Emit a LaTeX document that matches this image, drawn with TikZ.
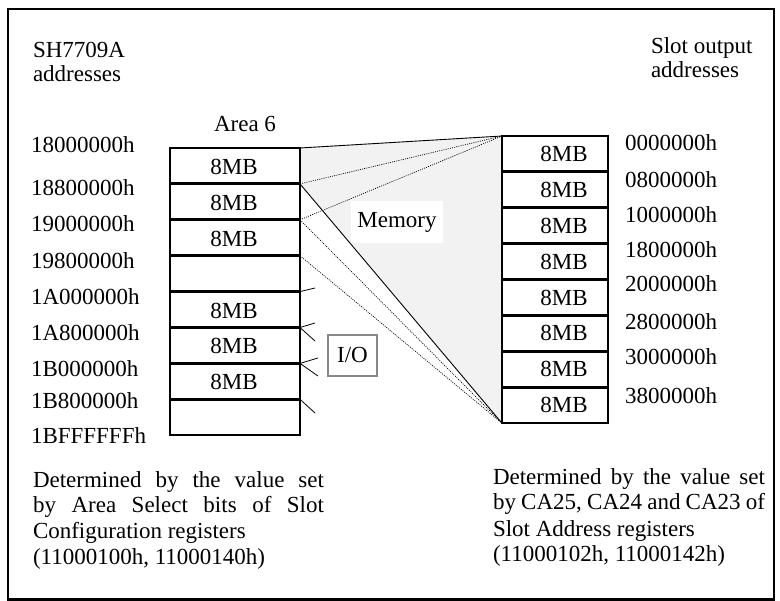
\documentclass[tikz,border=0pt]{standalone}
\usepackage{fontspec}
\setmainfont{Liberation Serif}
\usetikzlibrary{backgrounds}
\definecolor{memfill}{HTML}{F2F2F2}
\definecolor{iogray}{HTML}{888888}
\begin{document}
\begin{tikzpicture}[x=1pt,y=-1pt,
  every node/.style={font=\fontsize{23}{26}\selectfont, inner sep=0pt, outer sep=0pt},
  cellL/.style={draw, line width=2.3pt, fill=white, minimum width=130pt, minimum height=35.9pt},
  cellR/.style={draw, line width=2.3pt, fill=white, minimum width=106pt, minimum height=35.9pt},
  sepline/.style={line width=3.2pt},
  solidline/.style={line width=0.9pt},
  dotline/.style={line width=0.7pt, dash pattern=on 1pt off 1.2pt},
  tickline/.style={line width=0.8pt},
  iobox/.style={draw=iogray, line width=1.5pt, minimum width=49pt, minimum height=41pt},
  membox/.style={fill=white, minimum width=92pt, minimum height=42pt},
  txt/.style={anchor=base west}]
\useasboundingbox (0,0) rectangle (780,601);
% frame
\draw[line width=2.5pt] (8,9) rectangle (774,599.5);

% cells
\foreach \i in {1,...,8}{
  \node[cellL] (L\i) at (235,{148+35.9*(\i-0.5)}) {};
  \node[cellR] (R\i) at (555,{136+35.9*(\i-0.5)}) {};
}
\foreach \i in {1,...,7}{
  \draw[sepline] (L\i.south west) -- (L\i.south east);
  \draw[sepline] (R\i.south west) -- (R\i.south east);
}
\foreach \i in {1,...,8}{
  \node (mR\i) at (564,{136+35.9*(\i-0.5)}) {8MB};
}
\foreach \i in {1,2,3,5,6,7}{
  \node (mL\i) at (234,{149+35.9*(\i-0.5)}) {8MB};
}

% shaded memory mapping
\begin{scope}[on background layer]
  \fill[memfill] (L1.north east) -- (R1.north west) -- (R8.south west) -- (L1.south east) -- cycle;
\end{scope}
\node[membox] (mem) at (397,222) {Memory};
\draw[solidline] (L1.north east) -- (R1.north west);
\draw[solidline] (L1.south east) -- (R8.south west);
\draw[dotline] (L1.south east) -- (R1.north west);
\draw[dotline] (L2.south east) -- (R1.north west);
\draw[dotline] (L2.south east) -- (R8.south west);
\draw[dotline] (L3.south east) -- (R8.south west);

% I/O
\node[iobox] (io) at (352.5,355.5) {I/O};
\coordinate (k1) at (315,288);
\coordinate (k2) at (315,323);
\coordinate (k3) at (315,341);
\coordinate (k4) at (318,358);
\coordinate (k5) at (318,376);
\coordinate (k6) at (315,413);
\draw[tickline] (L5.north east) -- (k1);
\draw[tickline] (L6.north east) -- (k2);
\draw[tickline] (L6.north east) -- (k3);
\draw[tickline] (L7.north east) -- (k4);
\draw[tickline] (L7.north east) -- (k5);
\draw[tickline] (L8.north east) -- (k6);

% headings
\node[txt] (h1) at (33,58) {SH7709A};
\node[txt] (h2) at (33,82) {addresses};
\node[txt] (h3) at (651,54) {Slot output};
\node[txt] (h4) at (651,78) {addresses};
\node[anchor=base] (area) at (245,132) {Area 6};

% left addresses
\foreach \y/\t [count=\n] in {153/18000000h, 196/18800000h, 232/19000000h, 269/19800000h, 305/1A000000h, 341/1A800000h, 377/1B000000h, 409/1B800000h, 444/1BFFFFFFh}{
  \node[txt] (a\n) at (31,\y) {\t};
}
% right addresses
\foreach \y/\t [count=\n] in {151/0000000h, 188/0800000h, 223/1000000h, 258/1800000h, 292/2000000h, 330/2800000h, 365/3000000h, 404/3800000h}{
  \node[txt] (b\n) at (625,\y) {\t};
}

% bottom notes
\node[txt] (p1) at (33,488) {\makebox[291pt][s]{Determined by the value set}};
\node[txt] (p2) at (33,513) {\makebox[291pt][s]{by Area Select bits of Slot}};
\node[txt] (p3) at (33,539) {Configuration registers};
\node[txt] (p4) at (33,565) {(11000100h, 11000140h)};
\node[txt] (q1) at (493,485) {\makebox[272pt][s]{Determined by the value set}};
\node[txt] (q2) at (493,510) {\makebox[272pt][s]{by CA25, CA24 and CA23 of}};
\node[txt] (q3) at (493,537) {Slot Address registers};
\node[txt] (q4) at (493,562) {(11000102h, 11000142h)};
\end{tikzpicture}
\end{document}
